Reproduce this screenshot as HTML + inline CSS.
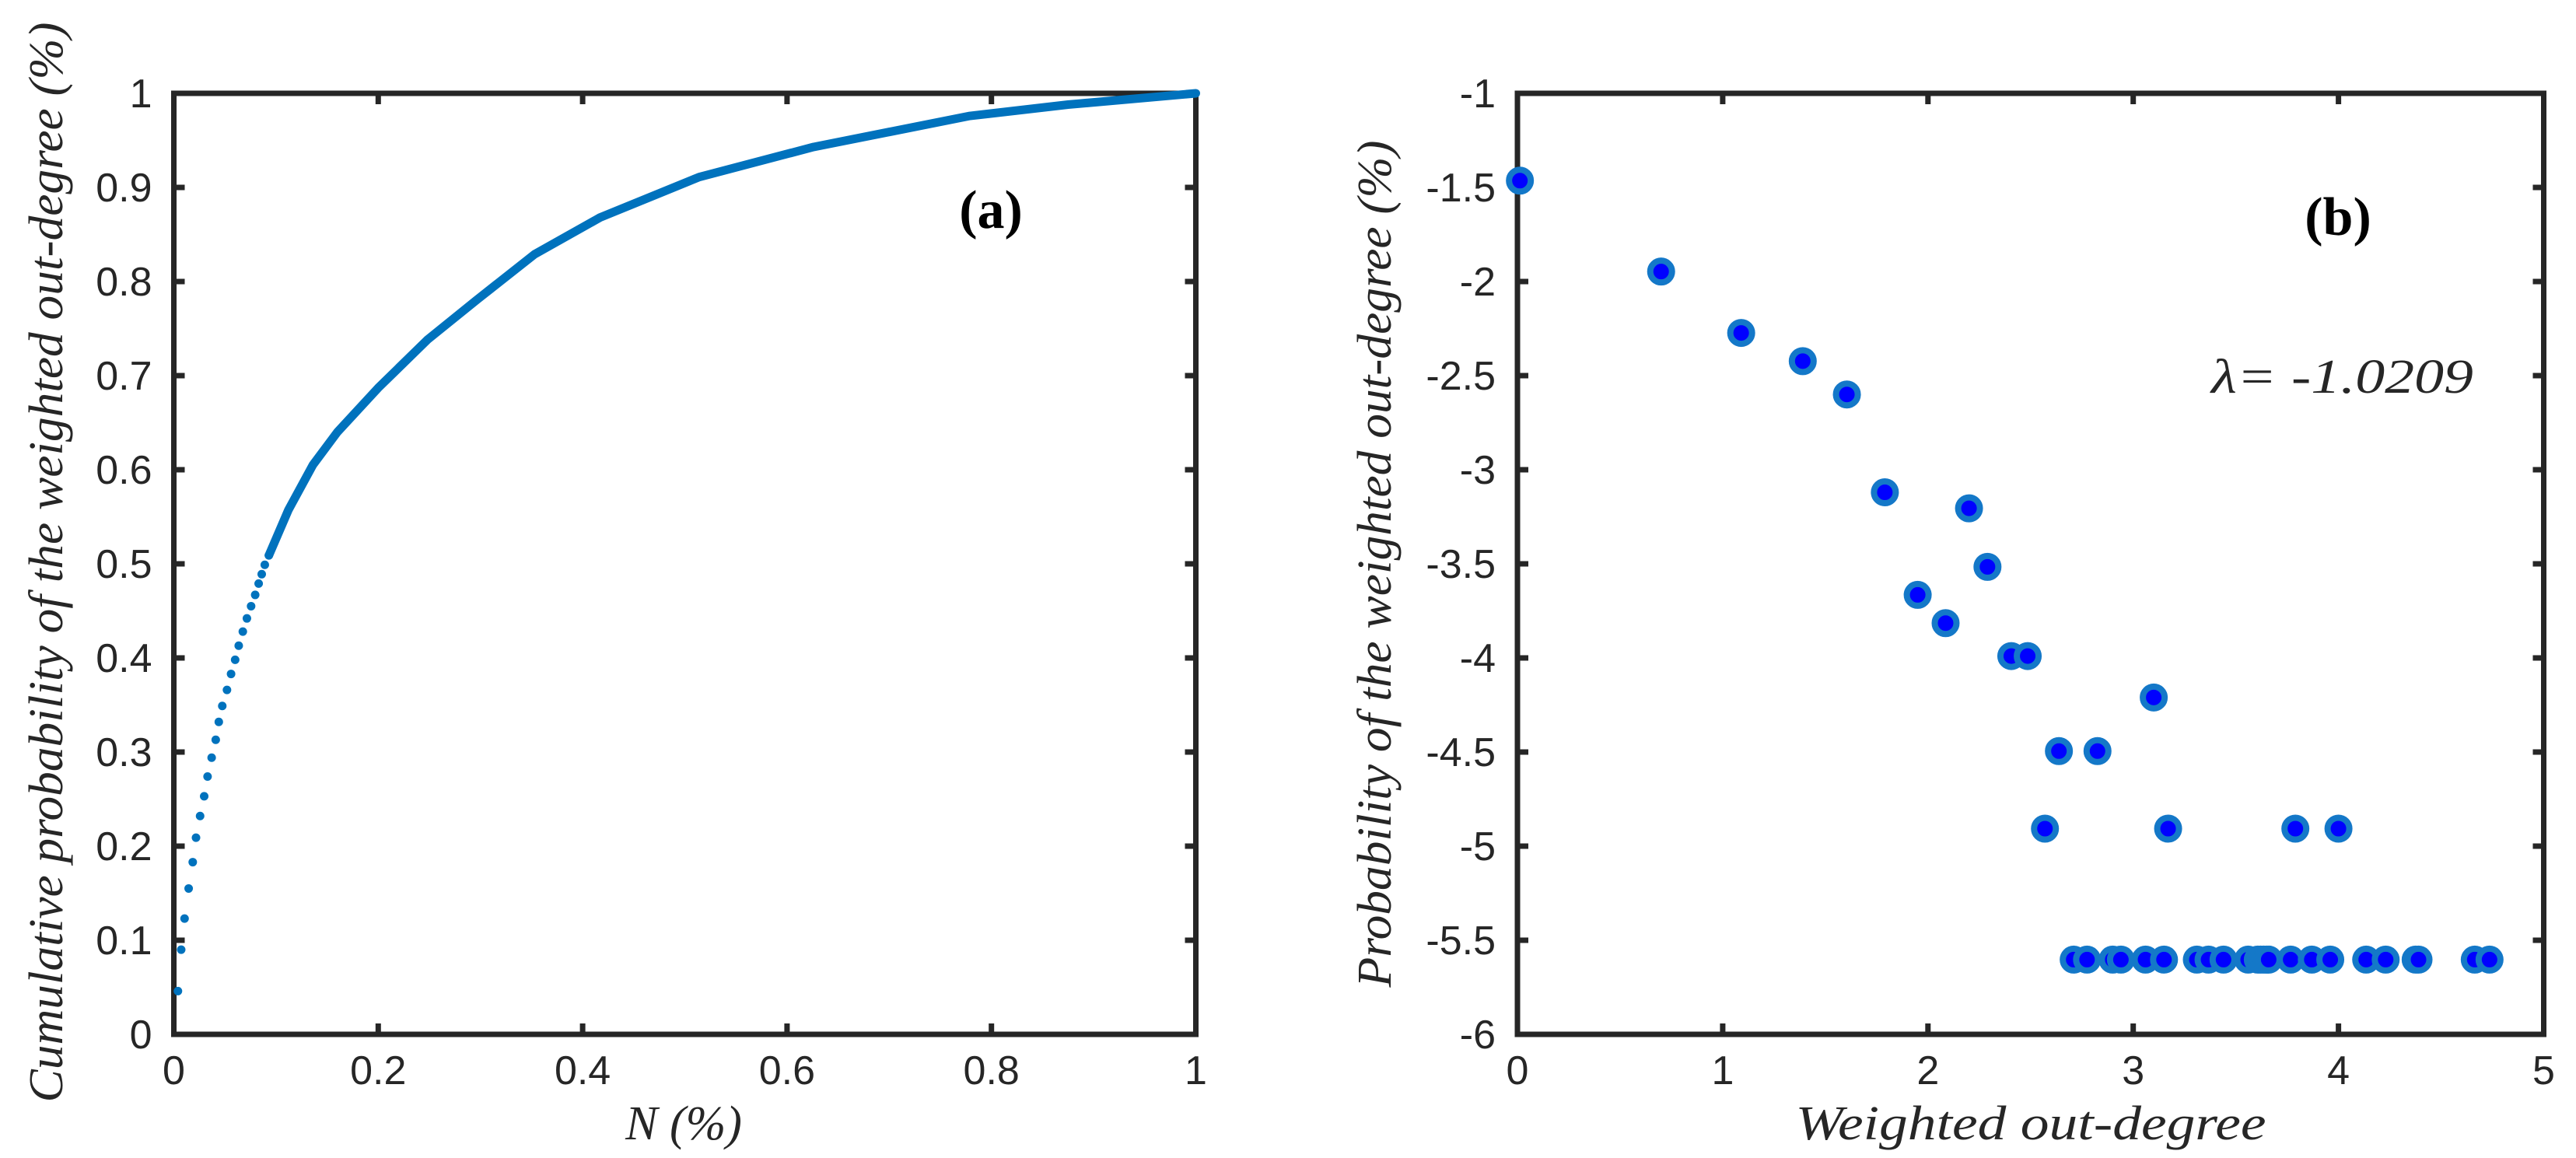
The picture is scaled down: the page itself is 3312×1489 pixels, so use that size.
<!DOCTYPE html>
<html><head><meta charset="utf-8"><style>
html,body{margin:0;padding:0;background:#fff;}
svg{display:block;}
.tick{font-family:"Liberation Sans",Arial,sans-serif;font-size:52px;fill:#262626;}
.title{font-family:"Liberation Serif","Times New Roman",serif;font-style:italic;font-size:62px;fill:#262626;}
</style></head><body>
<svg id="chart" width="3312" height="1489" viewBox="0 0 3312 1489" xmlns="http://www.w3.org/2000/svg">
<g id="pa"></g>
<g id="pb"></g>
<text class="title" transform="translate(80,723) rotate(-90)" text-anchor="middle" textLength="1389" lengthAdjust="spacingAndGlyphs">Cumulative probability of the weighted out-degree (%)</text>
<text class="title" x="879" y="1465" text-anchor="middle">N (%)</text>
<text x="1274" y="293" text-anchor="middle" font-family="Liberation Serif,serif" font-weight="bold" font-size="70">(a)</text>
<text class="title" transform="translate(1788,725) rotate(-90)" text-anchor="middle" textLength="1089" lengthAdjust="spacingAndGlyphs">Probability of the weighted out-degree (%)</text>
<text class="title" x="2611" y="1465" text-anchor="middle" textLength="605" lengthAdjust="spacingAndGlyphs">Weighted out-degree</text>
<text x="3006" y="302" text-anchor="middle" font-family="Liberation Serif,serif" font-weight="bold" font-size="70">(b)</text>
<text class="title" x="2843" y="505" font-size="64" textLength="337" lengthAdjust="spacingAndGlyphs">λ= -1.0209</text>
</svg>
<script>
// Panel (a) data
const aDotX=[0.004,0.0072,0.0105,0.0145,0.0185,0.0217,0.0257,0.0297,0.033,0.037,0.041,0.044,0.0474,0.052,0.056,0.060,0.0635,0.0675,0.0715,0.0756,0.0796,0.083,0.086,0.089,0.093];
const aDotY=[0.046,0.090,0.123,0.155,0.183,0.209,0.232,0.253,0.274,0.294,0.313,0.332,0.349,0.366,0.383,0.398,0.413,0.428,0.442,0.455,0.467,0.479,0.489,0.499,0.509];
const aLineX=[0.093,0.112,0.136,0.16,0.2,0.248,0.297,0.353,0.417,0.514,0.626,0.779,0.875,1.0];
const aLineY=[0.509,0.557,0.605,0.640,0.687,0.738,0.781,0.829,0.868,0.911,0.943,0.976,0.988,1.0];
const aXTicks=[0,0.2,0.4,0.6,0.8,1];
const aXTickLabels=["0","0.2","0.4","0.6","0.8","1"];
const aYTicks=[0,0.1,0.2,0.3,0.4,0.5,0.6,0.7,0.8,0.9,1];
const aYTickLabels=["0","0.1","0.2","0.3","0.4","0.5","0.6","0.7","0.8","0.9","1"];
// Panel (b) data
const bX=[0.012,0.70,1.09,1.39,1.605,1.79,2.20,2.29,1.95,2.086,2.406,2.486,3.10,2.638,2.826,2.57,3.17,3.79,4.0,
 2.71,2.775,2.90,2.94,3.06,3.15,3.31,3.367,3.44,3.56,3.607,3.62,3.635,3.65,3.66,3.767,3.87,3.96,4.135,4.23,4.376,4.39,4.664,4.736];
const bY=[-1.464,-1.947,-2.273,-2.423,-2.6,-3.12,-3.205,-3.516,-3.665,-3.815,-3.99,-3.99,-4.21,-4.495,-4.495,-4.907,-4.907,-4.907,-4.907,
 -5.603,-5.603,-5.603,-5.603,-5.603,-5.603,-5.603,-5.603,-5.603,-5.603,-5.603,-5.603,-5.603,-5.603,-5.603,-5.603,-5.603,-5.603,-5.603,-5.603,-5.603,-5.603,-5.603,-5.603];
const bXTicks=[0,1,2,3,4,5];
const bXTickLabels=["0","1","2","3","4","5"];
const bYTicks=[-6,-5.5,-5,-4.5,-4,-3.5,-3,-2.5,-2,-1.5,-1];
const bYTickLabels=["-6","-5.5","-5","-4.5","-4","-3.5","-3","-2.5","-2","-1.5","-1"];

const NS="http://www.w3.org/2000/svg";
function mk(parent,tag,attrs){const e=document.createElementNS(NS,tag);for(const k in attrs)e.setAttribute(k,attrs[k]);parent.appendChild(e);return e;}

function axes(g,L,R,T,B,sx,sy,xt,xl,yt,yl,pfx){
  for(let i=0;i<xt.length;i++){
    const x=sx(xt[i]);
    const t1=mk(g,'line',{x1:x,x2:x,y1:B,y2:B-14,stroke:'#262626','stroke-width':7});
    
    
    const t2=mk(g,'line',{x1:x,x2:x,y1:T,y2:T+14,stroke:'#262626','stroke-width':7});
    
    
    const tx=mk(g,'text',{x:x,y:B+64,'text-anchor':'middle','class':'tick'});
    tx.textContent=xl[i];
    
    
  }
  for(let i=0;i<yt.length;i++){
    const y=sy(yt[i]);
    const t1=mk(g,'line',{x1:L,x2:L+14,y1:y,y2:y,stroke:'#262626','stroke-width':7});
    
    
    const t2=mk(g,'line',{x1:R,x2:R-14,y1:y,y2:y,stroke:'#262626','stroke-width':7});
    
    
    const tx=mk(g,'text',{x:L-28,y:y+18,'text-anchor':'end','class':'tick'});
    tx.textContent=yl[i];
    
    
  }
  const box=mk(g,'rect',{x:L,y:T,width:R-L,height:B-T,fill:'none',stroke:'#262626','stroke-width':7});
  
  
}

// Panel a
(function(){
  const g=document.getElementById('pa');
  const L=223.5,R=1537.5,T=120,B=1330;
  const sx=v=>L+v*(R-L), sy=v=>B-v*(B-T);
  axes(g,L,R,T,B,sx,sy,aXTicks,aXTickLabels,aYTicks,aYTickLabels,'panel-a');
  const pts=aLineX.map((x,i)=>sx(x)+','+sy(aLineY[i])).join(' ');
  const pl=mk(g,'polyline',{points:pts,fill:'none',stroke:'#0072BD','stroke-width':11,'stroke-linecap':'round','stroke-linejoin':'round'});
  
  
  for(let i=0;i<aDotX.length;i++){
    const c=mk(g,'circle',{cx:sx(aDotX[i]),cy:sy(aDotY[i]),r:5.5,fill:'#0072BD'});
    
    
  }
})();

// Panel b
(function(){
  const g=document.getElementById('pb');
  const L=1951,R=3270.5,T=120,B=1330;
  const sx=v=>L+v/5*(R-L), sy=v=>T+(-1-v)/5*(B-T);
  axes(g,L,R,T,B,sx,sy,bXTicks,bXTickLabels,bYTicks,bYTickLabels,'panel-b');
  for(let i=0;i<bX.length;i++){
    const c=mk(g,'circle',{cx:sx(bX[i]),cy:sy(bY[i]),r:14,fill:'#0000FF',stroke:'#1478C8','stroke-width':8});
    
    
  }
})();
</script>
</body></html>
